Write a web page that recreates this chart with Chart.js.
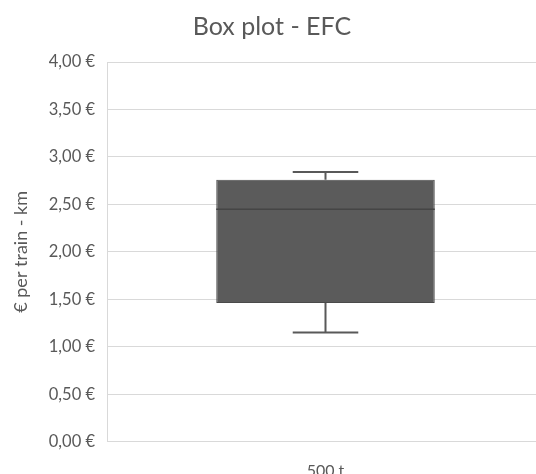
<!DOCTYPE html>
<html>
<head>
<meta charset="utf-8">
<script src="https://cdn.jsdelivr.net/npm/chart.js@4/dist/chart.umd.min.js"></script>
<style>
  html, body { margin: 0; padding: 0; background: #ffffff; overflow: hidden; }
  #wrap { width: 536px; height: 474px; overflow: hidden; }
</style>
</head>
<body>
<div id="wrap"><canvas id="c" width="545" height="474"></canvas></div>
<script>
// Five-number summary per category (€ per train-km)
const categories = ['500 t'];
const minValues = [1.15];
const q1Values = [1.46];
const medianValues = [2.45];
const q3Values = [2.76];
const maxValues = [2.84];
const yTicks = [0, 0.5, 1, 1.5, 2, 2.5, 3, 3.5, 4];

const euro = v => v.toFixed(2).replace('.', ',') + ' €';

// Draws the median line and the whiskers on top of the floating box
const boxPlotExtras = {
  id: 'boxPlotExtras',
  afterDatasetsDraw(chart) {
    const { ctx } = chart;
    const y = chart.scales.y;
    const meta = chart.getDatasetMeta(0);
    meta.data.forEach((bar, i) => {
      const cx = bar.x;
      const half = bar.width / 2;
      const cap = bar.width * 0.15;
      const yMin = y.getPixelForValue(minValues[i]);
      const yQ1 = y.getPixelForValue(q1Values[i]);
      const yMed = y.getPixelForValue(medianValues[i]);
      const yQ3 = y.getPixelForValue(q3Values[i]);
      const yMax = y.getPixelForValue(maxValues[i]);
      ctx.save();
      ctx.strokeStyle = '#595959';
      ctx.lineWidth = 2;
      ctx.beginPath();
      ctx.moveTo(cx, yQ3); ctx.lineTo(cx, yMax);
      ctx.moveTo(cx - cap, yMax); ctx.lineTo(cx + cap, yMax);
      ctx.moveTo(cx, yQ1); ctx.lineTo(cx, yMin);
      ctx.moveTo(cx - cap, yMin); ctx.lineTo(cx + cap, yMin);
      ctx.stroke();
      ctx.strokeStyle = '#454545';
      ctx.lineWidth = 1.5;
      ctx.beginPath();
      ctx.moveTo(cx - half, yMed); ctx.lineTo(cx + half, yMed);
      ctx.stroke();
      ctx.restore();
    });
  }
};

new Chart(document.getElementById('c'), {
  type: 'bar',
  data: {
    labels: categories,
    datasets: [{
      label: 'EFC',
      data: q1Values.map((q, i) => [q, q3Values[i]]),
      backgroundColor: '#5b5b5b',
      borderColor: '#4a4a4a',
      borderWidth: 1,
      borderSkipped: false,
      barPercentage: 1,
      categoryPercentage: 0.5
    }]
  },
  options: {
    responsive: false,
    animation: false,
    layout: { padding: { left: 0, right: 1, top: 0, bottom: 0 } },
    plugins: {
      legend: { display: false },
      tooltip: { enabled: false },
      title: {
        display: true,
        text: 'Box plot - EFC',
        color: '#595959',
        font: { family: 'Lato', size: 25, weight: 'normal', lineHeight: 1.2 },
        padding: { top: 12, bottom: 20 }
      }
    },
    scales: {
      x: {
        grid: { display: false },
        border: { display: false },
        ticks: { color: '#595959', font: { family: 'Lato', size: 16 }, padding: 12 },
        afterFit: s => { s.height = 32.3; }
      },
      y: {
        min: 0,
        max: 4,
        afterBuildTicks: s => { s.ticks = yTicks.map(v => ({ value: v })); },
        ticks: {
          color: '#595959',
          font: { family: 'Lato', size: 16.5 },
          padding: 12,
          callback: v => euro(v)
        },
        grid: { color: '#d9d9d9', lineWidth: 1, drawTicks: false },
        border: { display: true, color: '#d9d9d9', width: 1 },
        title: {
          display: true,
          text: '€ per train - km',
          color: '#595959',
          font: { family: 'Lato', size: 18 },
          padding: { top: 10, bottom: 0 }
        },
        afterFit: s => { s.width = 107; }
      }
    }
  },
  plugins: [boxPlotExtras]
});
</script>
</body>
</html>
